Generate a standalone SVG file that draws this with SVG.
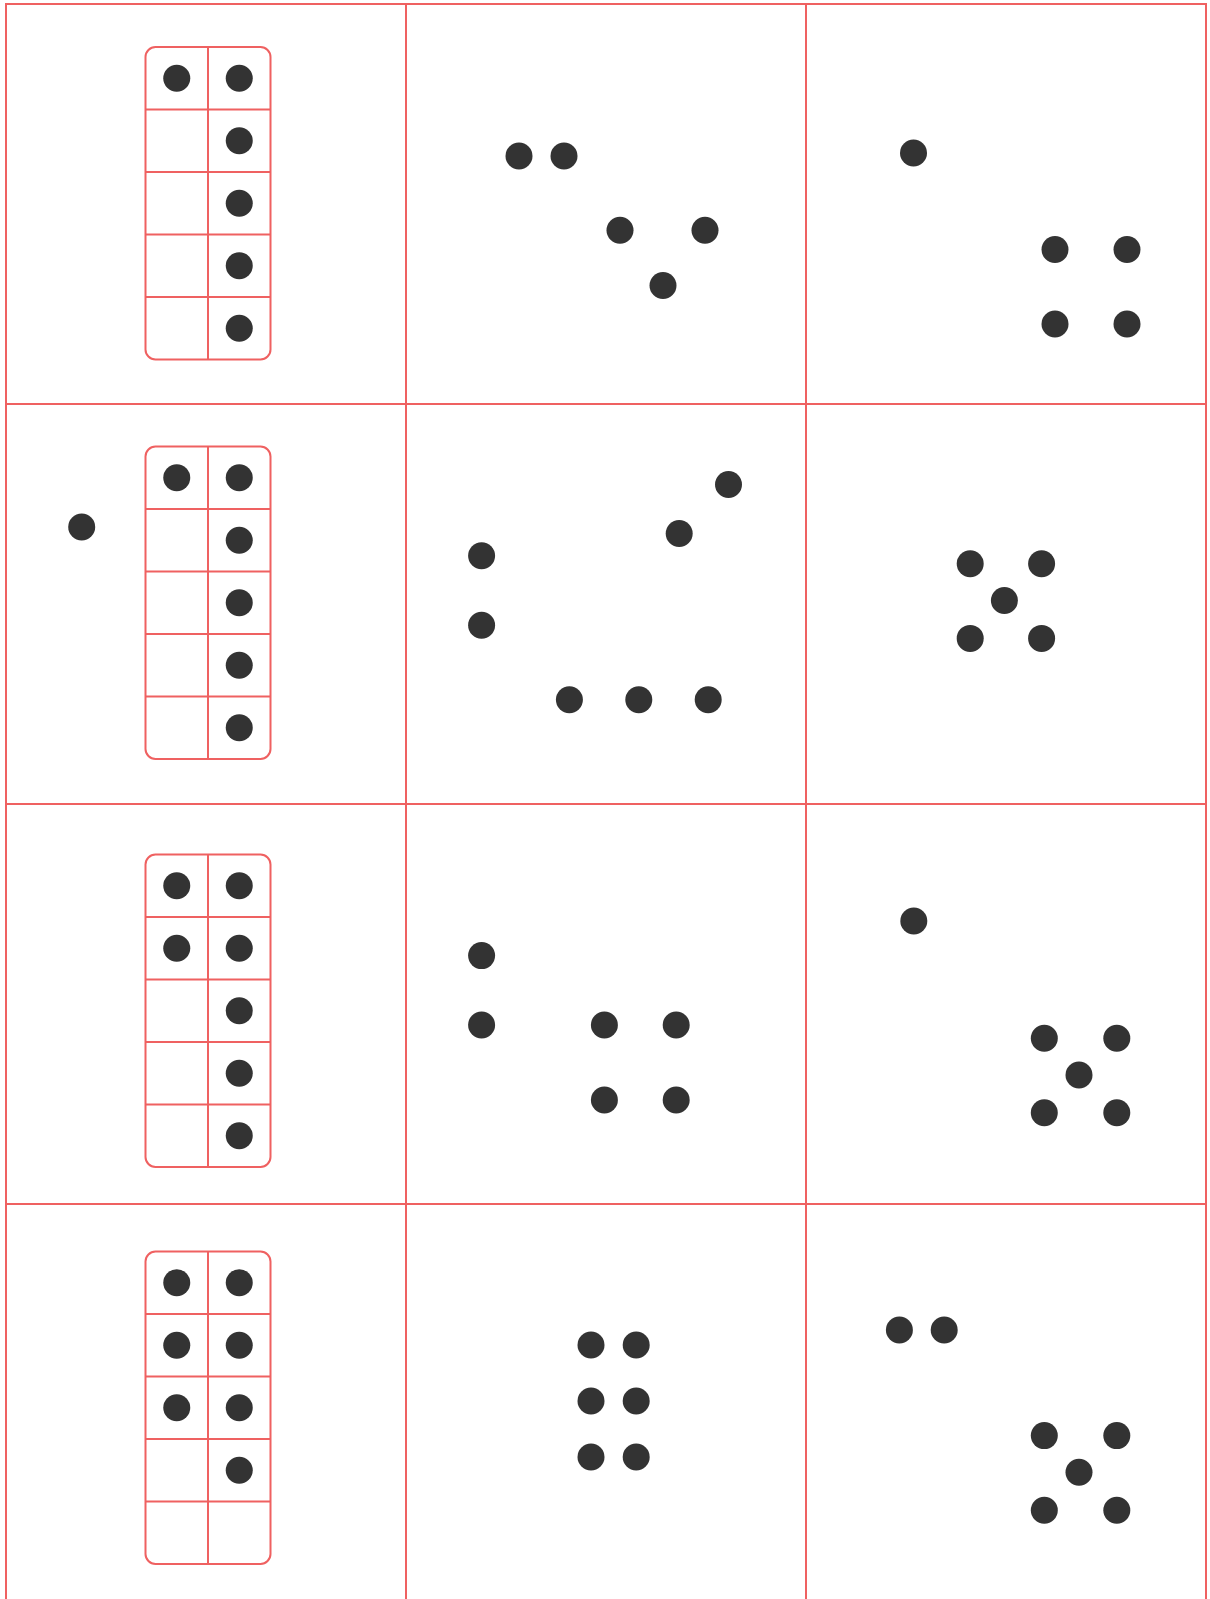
<svg xmlns="http://www.w3.org/2000/svg" width="1210" height="1599" viewBox="0 0 1210 1599">
<style>
.ln{stroke:#ef6161;stroke-width:2;fill:none}
.fr{stroke:#ef6161;stroke-width:2;fill:none}
.d{fill:#333333}
</style>
<defs>
<g id="frame">
<rect class="fr" x="145.5" y="0" width="125" height="312.5" rx="10" ry="10"/>
<line class="fr" x1="208" y1="0" x2="208" y2="312.5"/>
<line class="fr" x1="145.5" y1="62.5" x2="270.5" y2="62.5"/>
<line class="fr" x1="145.5" y1="125" x2="270.5" y2="125"/>
<line class="fr" x1="145.5" y1="187.5" x2="270.5" y2="187.5"/>
<line class="fr" x1="145.5" y1="250" x2="270.5" y2="250"/>
</g>
<circle id="dot" r="13.5"/>
</defs>
<rect width="1210" height="1599" fill="#ffffff"/>
<g id="grid">
<line class="ln" x1="6" y1="3" x2="6" y2="1599"/>
<line class="ln" x1="406" y1="3" x2="406" y2="1599"/>
<line class="ln" x1="806" y1="3" x2="806" y2="1599"/>
<line class="ln" x1="1206" y1="3" x2="1206" y2="1599"/>
<line class="ln" x1="5" y1="4" x2="1207" y2="4"/>
<line class="ln" x1="5" y1="404" x2="1207" y2="404"/>
<line class="ln" x1="5" y1="804" x2="1207" y2="804"/>
<line class="ln" x1="5" y1="1204" x2="1207" y2="1204"/>
</g>
<g id="r1c1">
<use href="#frame" transform="translate(0,47)"/>
<g class="d">
<circle cx="176.75" cy="78.25" r="13.5"/><circle cx="239.25" cy="78.25" r="13.5"/>
<circle cx="239.25" cy="140.75" r="13.5"/>
<circle cx="239.25" cy="203.25" r="13.5"/>
<circle cx="239.25" cy="265.75" r="13.5"/>
<circle cx="239.25" cy="328.25" r="13.5"/>
</g>
</g>
<g id="r1c2" class="d">
<circle cx="519" cy="156" r="13.5"/><circle cx="564" cy="156" r="13.5"/>
<circle cx="620" cy="230.3" r="13.5"/><circle cx="705" cy="230.3" r="13.5"/>
<circle cx="663" cy="285.5" r="13.5"/>
</g>
<g id="r1c3" class="d">
<circle cx="913.5" cy="153" r="13.5"/>
<circle cx="1055" cy="249.5" r="13.5"/><circle cx="1127" cy="249.5" r="13.5"/>
<circle cx="1055" cy="324" r="13.5"/><circle cx="1127" cy="324" r="13.5"/>
</g>
<g id="r2c1">
<circle class="d" cx="81.7" cy="527" r="13.5"/>
<use href="#frame" transform="translate(0,446.5)"/>
<g class="d">
<circle cx="176.75" cy="477.75" r="13.5"/><circle cx="239.25" cy="477.75" r="13.5"/>
<circle cx="239.25" cy="540.25" r="13.5"/>
<circle cx="239.25" cy="602.75" r="13.5"/>
<circle cx="239.25" cy="665.25" r="13.5"/>
<circle cx="239.25" cy="727.75" r="13.5"/>
</g>
</g>
<g id="r2c2" class="d">
<circle cx="728.5" cy="484.5" r="13.5"/>
<circle cx="679.2" cy="533.5" r="13.5"/>
<circle cx="481.6" cy="555.8" r="13.5"/>
<circle cx="481.6" cy="625.3" r="13.5"/>
<circle cx="569.4" cy="699.8" r="13.5"/><circle cx="638.8" cy="699.8" r="13.5"/><circle cx="708.2" cy="699.8" r="13.5"/>
</g>
<g id="r2c3" class="d">
<circle cx="970.2" cy="563.8" r="13.5"/><circle cx="1041.6" cy="563.8" r="13.5"/>
<circle cx="1004.4" cy="600.5" r="13.5"/>
<circle cx="970.2" cy="638.4" r="13.5"/><circle cx="1041.6" cy="638.4" r="13.5"/>
</g>
<g id="r3c1">
<use href="#frame" transform="translate(0,854.5)"/>
<g class="d">
<circle cx="176.75" cy="885.75" r="13.5"/><circle cx="239.25" cy="885.75" r="13.5"/>
<circle cx="176.75" cy="948.25" r="13.5"/><circle cx="239.25" cy="948.25" r="13.5"/>
<circle cx="239.25" cy="1010.75" r="13.5"/>
<circle cx="239.25" cy="1073.25" r="13.5"/>
<circle cx="239.25" cy="1135.75" r="13.5"/>
</g>
</g>
<g id="r3c2" class="d">
<circle cx="481.6" cy="955.6" r="13.5"/>
<circle cx="481.6" cy="1025" r="13.5"/>
<circle cx="604.4" cy="1025" r="13.5"/><circle cx="676.2" cy="1025" r="13.5"/>
<circle cx="604.4" cy="1100" r="13.5"/><circle cx="676.2" cy="1100" r="13.5"/>
</g>
<g id="r3c3" class="d">
<circle cx="913.8" cy="921" r="13.5"/>
<circle cx="1044.3" cy="1038.2" r="13.5"/><circle cx="1116.8" cy="1038.2" r="13.5"/>
<circle cx="1079" cy="1075" r="13.5"/>
<circle cx="1044.3" cy="1112.7" r="13.5"/><circle cx="1116.8" cy="1112.7" r="13.5"/>
</g>
<g id="r4c1">
<use href="#frame" transform="translate(0,1251.5)"/>
<g class="d">
<circle cx="176.75" cy="1282.75" r="13.5"/><circle cx="239.25" cy="1282.75" r="13.5"/>
<circle cx="176.75" cy="1345.25" r="13.5"/><circle cx="239.25" cy="1345.25" r="13.5"/>
<circle cx="176.75" cy="1407.75" r="13.5"/><circle cx="239.25" cy="1407.75" r="13.5"/>
<circle cx="239.25" cy="1470.25" r="13.5"/>
</g>
</g>
<g id="r4c2" class="d">
<circle cx="591" cy="1345" r="13.5"/><circle cx="636.2" cy="1345" r="13.5"/>
<circle cx="591" cy="1401" r="13.5"/><circle cx="636.2" cy="1401" r="13.5"/>
<circle cx="591" cy="1457" r="13.5"/><circle cx="636.2" cy="1457" r="13.5"/>
</g>
<g id="r4c3" class="d">
<circle cx="899.4" cy="1330" r="13.5"/><circle cx="944.2" cy="1330" r="13.5"/>
<circle cx="1044.3" cy="1435.6" r="13.5"/><circle cx="1116.8" cy="1435.6" r="13.5"/>
<circle cx="1079" cy="1472.3" r="13.5"/>
<circle cx="1044.3" cy="1510.2" r="13.5"/><circle cx="1116.8" cy="1510.2" r="13.5"/>
</g>
</svg>
